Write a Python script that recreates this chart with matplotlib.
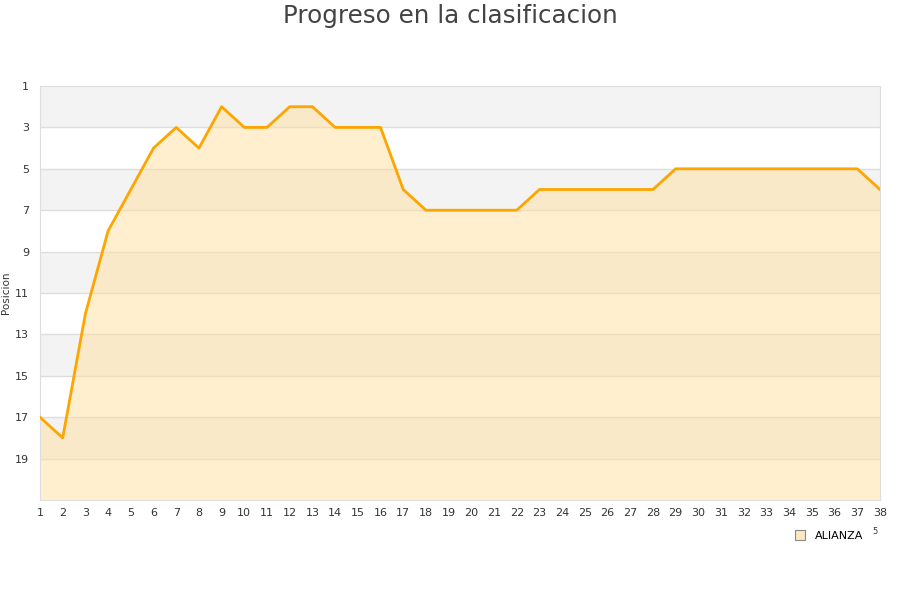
import numpy as np
import matplotlib.pyplot as plt
from matplotlib.lines import Line2D

jornadas = list(range(1, 39))
posicion = [17, 18, 12, 8, 6, 4, 3, 4, 2, 3, 3, 2, 2, 3, 3, 3, 6, 7, 7, 7,
            7, 7, 6, 6, 6, 6, 6, 6, 5, 5, 5, 5, 5, 5, 5, 5, 5, 6]
equipo = "ALIANZA"
y_ticks = list(range(1, 20, 2))

fig = plt.figure(figsize=(9, 6), dpi=100)
ax = fig.add_axes([40 / 900, 1 - 500 / 600, 840 / 900, 414 / 600])

# alternating bands
for lo in range(1, 21, 4):
    ax.axhspan(lo, lo + 2, color='#f3f3f3', zorder=0, lw=0)
for y in range(3, 21, 2):
    ax.axhline(y, color='#dddddd', lw=1, zorder=1)

ax.fill_between(jornadas, posicion, 21, color='#ffe0a0', alpha=0.5, lw=0, zorder=2)
ax.plot(jornadas, posicion, color='#ffa500', lw=2, zorder=3)

ax.set_xlim(1, 38)
ax.set_ylim(21, 1)
ax.set_xticks(jornadas)
ax.set_yticks(y_ticks)
ax.tick_params(axis='both', length=0, labelsize=8, colors='#333333')
ax.tick_params(axis='x', pad=6)
ax.tick_params(axis='y', pad=8)
for s in ax.spines.values():
    s.set_color('#dddddd')
ax.set_ylabel('Posicion', fontsize=7.5, color='#333333', labelpad=2)
ax.yaxis.set_label_coords(-0.034, 0.5)

fig.text(0.5, 1 - 16 / 600, 'Progreso en la clasificacion', ha='center', va='center',
         fontsize=17.7, color='#444444')

handle = Line2D([], [], marker='s', ls='none', markersize=7,
                markerfacecolor='#fde8c4', markeredgecolor='#888888', markeredgewidth=0.8)
fig.legend([handle], [equipo], loc='center', bbox_to_anchor=(0.918, 1 - 536 / 600),
           frameon=False, fontsize=8, handletextpad=0.3)
fig.text(875 / 900, 1 - 532 / 600, '5', fontsize=6, color='#333333', ha='center', va='center')

fig.savefig('out.png', dpi=100)
